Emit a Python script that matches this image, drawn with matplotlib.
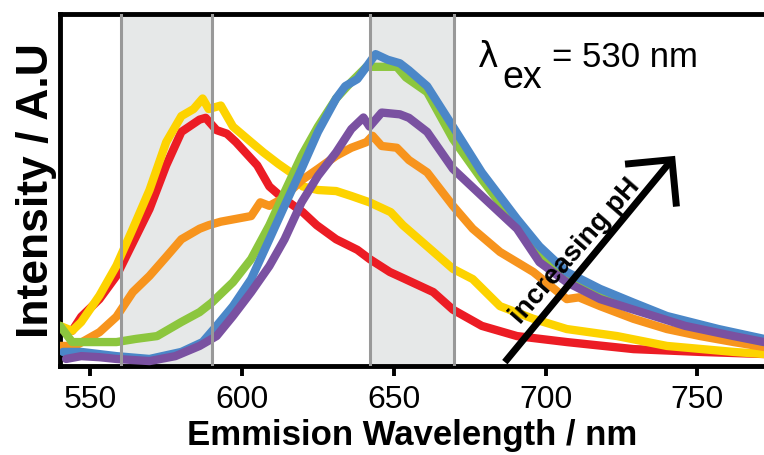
import matplotlib
matplotlib.use("Agg")
import matplotlib.pyplot as plt
import numpy as np

# ---- data ----
red_x = [540, 544, 547, 553, 558.6, 564, 569.5, 575, 580, 586, 588, 591.6, 595, 598, 605, 609, 613, 620,
         624.6, 631, 638, 642, 648.7, 653, 663, 669.5, 679, 690.6, 707, 729, 751, 772]
red_y = [10.5, 10, 14, 19, 25.6, 35, 44.6, 57, 66.5, 70, 70.5, 67, 66, 63.6, 57, 51, 48, 43.7,
         40, 36, 33, 30.4, 26.7, 25, 21, 16, 11.4, 8.5, 6.8, 4.8, 4, 3.4]

yellow_x = [540, 544, 547, 553, 558.6, 564, 569.5, 575, 580, 584, 587, 589, 593, 597, 603, 607, 612, 616,
            620, 625, 631, 636, 642, 649, 653, 661, 669.5, 676, 685, 696, 707, 723.6, 740, 762, 772]
yellow_y = [11.4, 10, 12.5, 20, 28.5, 39, 50, 63.6, 71, 73, 76, 73, 74, 68, 63.6, 60.7, 57.4, 55,
            51, 50, 49.7, 48.3, 46.5, 43.7, 40, 34, 27.6, 24.7, 17, 13.4, 10.5, 8.5, 5.7, 4, 3.4]

orange_x = [540, 545, 553, 558.6, 564, 569.5, 575, 580, 586, 589, 593, 598, 603, 606, 609, 613, 620, 625,
            631, 636, 641, 643, 646, 651, 655, 661, 669.5, 676, 685, 696, 707, 711, 718, 729, 740, 751, 762, 772]
orange_y = [5.7, 5.7, 9.6, 14, 21, 25.6, 31, 36, 39, 40, 41, 41.8, 42.6, 46.5, 45.5, 47.4, 53, 56,
            59.7, 62, 63.6, 65.4, 62.5, 62, 58.5, 55, 45.5, 39, 32.4, 26.7, 19, 19.5, 17, 13.4, 10.5, 8.5, 6.8, 5.4]

green_x = [540, 544, 549.6, 558.6, 565, 572, 580, 586, 590, 597, 603, 609, 614, 619.6, 625, 631, 636, 641,
           646, 651, 654, 661, 669.5, 679, 690.6, 702, 713, 724, 740, 757, 772]
green_y = [11.4, 6.8, 6.8, 6.8, 7.7, 8.5, 12.5, 15.3, 18, 23.8, 30.4, 40, 49.4, 59.7, 68, 76, 80.7, 85,
           85, 85, 82, 77.8, 64.5, 53, 40, 28.4, 22.7, 19, 13.4, 9.7, 6.8]

blue_x = [541, 547, 558.6, 569.5, 580, 587, 591.6, 597, 603, 609, 614, 619.6, 625, 631, 634, 638, 641, 644,
          648, 652, 655, 661, 669.5, 679, 690.6, 698, 707, 718, 729, 740, 757, 772]
blue_y = [4, 4, 2.8, 2, 4, 6.8, 11.4, 17, 24.7, 36, 45.5, 56, 66.5, 76, 79.5, 81.5, 85, 88.6,
          87, 86, 84, 79.5, 68, 55, 41.8, 34, 26.7, 21.9, 18, 14.2, 10.5, 7.7]

purple_x = [542, 547, 553, 558.6, 569.5, 578, 586, 591.6, 597, 603, 609, 614, 619.6, 625, 631, 636, 640, 642,
            646, 652, 655, 661, 669.5, 679, 690.6, 698, 707, 718, 729, 746, 762, 772]
purple_y = [2, 2.8, 2.5, 2, 1.4, 2.8, 5.7, 8.5, 14.2, 21, 28.4, 36, 46.5, 54, 60.7, 67.3, 70.6, 68,
            72, 71.5, 70.5, 66.5, 56, 48.3, 39, 29.5, 23.8, 19, 16, 11.4, 8.5, 6.8]

bands = [(560, 590), (642, 670)]
xticks = [550, 600, 650, 700, 750]

series = [
    (red_x, red_y, "#ec1c24"),
    (yellow_x, yellow_y, "#fdd300"),
    (orange_x, orange_y, "#f7941d"),
    (green_x, green_y, "#8cc63e"),
    (blue_x, blue_y, "#4b87c8"),
    (purple_x, purple_y, "#7a51a1"),
]

fam = ["Liberation Sans", "DejaVu Sans"]

fig = plt.figure(figsize=(7.64, 4.56), dpi=100)
ax = fig.add_axes([60 / 764, (456 - 367) / 456, (764 - 60) / 764, (367 - 15) / 456])

for a, b in bands:
    ax.axvspan(a, b, color="#e6e8e8", zorder=0, lw=0)
    for v in (a, b):
        ax.axvline(v, color="#999999", lw=2.2, zorder=5)

for xs, ys, c in series:
    ax.plot(xs, ys, color=c, lw=6, solid_joinstyle="round", solid_capstyle="round", zorder=3)

ax.set_xlim(540, 772)
ax.set_ylim(0, 100)
ax.set_xticks(xticks)
ax.set_xticklabels([str(t) for t in xticks], fontfamily=fam, fontsize=23)
ax.set_yticks([])
ax.tick_params(axis="x", direction="out", length=7, width=2.8, pad=6)
for s in ("left", "bottom", "top"):
    ax.spines[s].set_linewidth(3.5)
ax.spines["right"].set_visible(False)

ax.set_xlabel("Emmision Wavelength / nm", fontfamily=fam, fontweight="bold", fontsize=25, labelpad=3)
ax.set_ylabel("Intensity / A.U", fontfamily=fam, fontweight="bold", fontsize=32, labelpad=2)

# lambda_ex annotation
ax.text(0.594, 0.852, "λ", transform=ax.transAxes, fontsize=25, fontfamily="DejaVu Sans", va="baseline", ha="left")
ax.text(0.628, 0.793, "ex", transform=ax.transAxes, fontsize=27, fontfamily=fam, va="baseline", ha="left")
ax.text(0.699, 0.852, "= 530 nm", transform=ax.transAxes, fontsize=25, fontfamily=fam, va="baseline", ha="left")

# increasing pH arrow
ax.annotate("", xy=(742.7, 59.7), xytext=(686.6, 1.1), zorder=7,
            arrowprops=dict(arrowstyle="->,head_length=2.4,head_width=2.4", lw=5, color="k",
                            shrinkA=0, shrinkB=0, joinstyle="miter", capstyle="butt"))
ax.text(0.732, 0.328, "increasing pH", transform=ax.transAxes, rotation=49, fontsize=20,
        fontfamily=fam, fontweight="bold", ha="center", va="center", rotation_mode="anchor", zorder=7)

fig.savefig("out.png", dpi=100)
